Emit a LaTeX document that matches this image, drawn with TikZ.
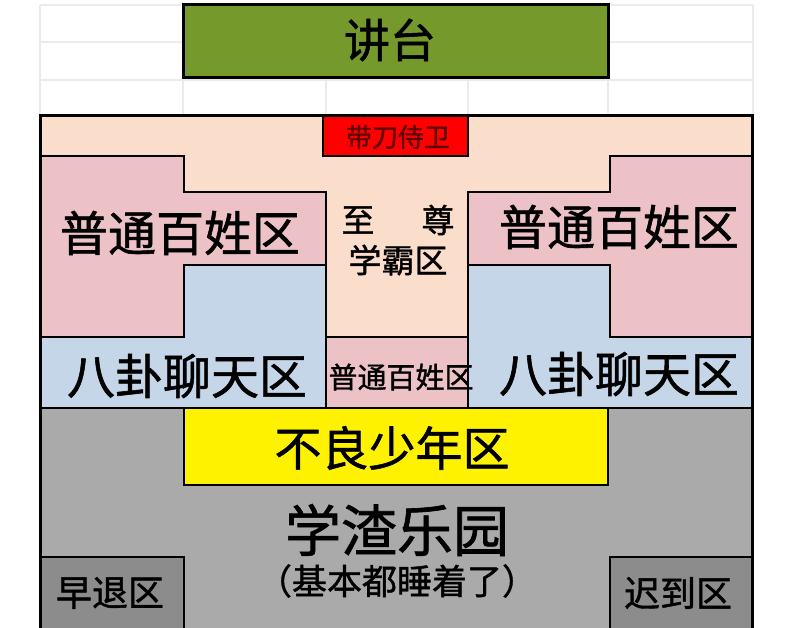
\documentclass[tikz,border=0pt]{standalone}
\usepackage{fontspec}
\setmainfont{Noto Sans CJK SC}[FakeBold=1.2]
\definecolor{podium}{RGB}{118,153,43}
\definecolor{peach}{RGB}{250,221,202}
\definecolor{pinkz}{RGB}{237,194,198}
\definecolor{bluez}{RGB}{197,214,233}
\definecolor{grayz}{RGB}{170,170,170}
\definecolor{grayd}{RGB}{140,140,140}
\definecolor{redz}{RGB}{255,0,0}
\definecolor{redtext}{RGB}{95,0,0}
\definecolor{gridc}{RGB}{235,235,235}
\tikzset{
  zone/.style={draw=black,line width=2.2pt,line join=miter},
  gridline/.style={draw=gridc,line width=1.2pt},
  lbl/.style={inner sep=0pt,text=black},
}
\newcommand{\fs}[1]{\fontsize{#1}{#1}\selectfont}
\begin{document}
\begin{tikzpicture}[x=1pt,y=-1pt]
\useasboundingbox (0,0) rectangle (800,628);
\fill[white] (0,0) rectangle (800,628);
\clip (0,0) rectangle (800,628);
% spreadsheet grid
\foreach \yy in {5,42,80} \draw[gridline] (40,\yy) -- (753,\yy);
\foreach \xx in {40,183,326,468,608,753} \draw[gridline] (\xx,5) -- (\xx,116);
% podium
\draw[zone,fill=podium,line width=3pt] (183,5) rectangle (608,78);
% upper area
\fill[peach] (40,116) rectangle (752,408);
\draw[zone,fill=pinkz] (40,156) -- (184,156) -- (184,192) -- (326,192) -- (326,265) -- (184,265) -- (184,337) -- (40,337) -- cycle;
\draw[zone,fill=bluez] (184,265) -- (326,265) -- (326,408) -- (40,408) -- (40,337) -- (184,337) -- cycle;
\draw[zone,fill=pinkz] (326,337) rectangle (468,408);
\draw[zone,fill=pinkz] (752,156) -- (610,156) -- (610,192) -- (468,192) -- (468,265) -- (610,265) -- (610,337) -- (752,337) -- cycle;
\draw[zone,fill=bluez] (610,265) -- (468,265) -- (468,408) -- (752,408) -- (752,337) -- (610,337) -- cycle;
\draw[zone,fill=redz] (323,116) rectangle (468,156);
% lower area
\draw[zone,fill=grayz] (40,408) rectangle (752,640);
\draw[zone,fill=yellow] (184,408) rectangle (608,485);
\draw[zone,fill=grayd] (40,557) rectangle (184,640);
\draw[zone,fill=grayd] (610,557) rectangle (752,640);
% frame
\draw[line width=3pt] (40,640) -- (40,116) -- (752,116) -- (752,640);
% labels
\node[lbl] (jiangtai) at (390,40) {\fs{46}讲台};
\node[lbl,text=redtext] (daidao) at (398,137) {\fs{26}带刀侍卫};
\node[lbl] (zhi) at (358,220) {\fs{33}至};
\node[lbl] (zun) at (438,220) {\fs{33}尊};
\node[lbl] (xueba) at (398,260) {\fs{33}学霸区};
\node[lbl] (ptL) at (180,233) {\fs{48}普通百姓区};
\node[lbl] (ptR) at (619,227) {\fs{48}普通百姓区};
\node[lbl] (bgL) at (187,376) {\fs{48}八卦聊天区};
\node[lbl] (bgR) at (619,374) {\fs{48}八卦聊天区};
\node[lbl] (ptC) at (401,377) {\fs{29}普通百姓区};
\node[lbl] (buliang) at (392,448) {\fs{47}不良少年区};
\node[lbl] (xuezha) at (397,530) {\fs{56}学渣乐园};
\node[lbl] (shui) at (397,581) {\fs{35}（基本都睡着了）};
\node[lbl] (zaotui) at (110,593) {\fs{36}早退区};
\node[lbl] (chidao) at (678,593) {\fs{36}迟到区};
\end{tikzpicture}
\end{document}
